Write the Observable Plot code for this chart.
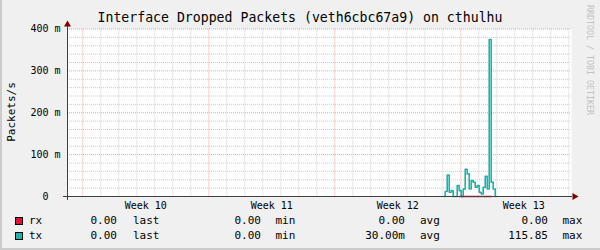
<!DOCTYPE html>
<html>
<head>
<meta charset="utf-8">
<script src="https://cdn.jsdelivr.net/npm/d3@7"></script>
<script src="https://cdn.jsdelivr.net/npm/@observablehq/plot@0.6"></script>
<style>
  html, body { margin: 0; padding: 0; background: #f0f0f0; }
  #wrap { position: relative; width: 600px; height: 250px; background: #f0f0f0; overflow: hidden;
          font-family: "DejaVu Sans Mono", monospace; color: #000; }
  #edgeL { position: absolute; left: 0; top: 0; width: 2px; height: 250px; background: #cbcbcb; }
  #edgeB { position: absolute; left: 0; bottom: 0; width: 600px; height: 2px; background: #cbcbcb; }
  #title { position: absolute; left: 0; top: 11px; width: 600px; text-align: center; font-size: 13.2px; line-height: 14px; white-space: pre; }
  #chart { position: absolute; left: 0; top: 0; }
  #ylab { position: absolute; left: 11px; top: 112px; transform: translate(-50%, -50%) rotate(-90deg); font-size: 11px; white-space: nowrap; }
  #wm { position: absolute; left: 590px; top: 60px; transform: translate(-50%, -50%) rotate(90deg); font-size: 8.3px; color: #c2c2c2; white-space: nowrap; }
  .row { position: absolute; left: 0; width: 600px; height: 14px; line-height: 14px; font-size: 11px; white-space: pre; }
  .row span { position: absolute; top: 0; }
  .sw { width: 6px; height: 6px; border: 1px solid #000; top: 3px !important; }
</style>
</head>
<body>
<div id="wrap">
  <div id="title"></div>
  <div id="chart"></div>
  <div id="ylab"></div>
  <div id="wm"></div>
  <div id="legend"></div>
  <div id="edgeL"></div>
  <div id="edgeB"></div>
</div>
<script>
// ---- data ----
const titleText = "Interface Dropped Packets (veth6cbc67a9) on cthulhu";
const yLabel = "Packets/s";
const watermark = "RRDTOOL / TOBI OETIKER";

const viewStart = "2024-03-03T03:36Z";
const viewEnd = "2024-03-31T03:36Z";

const weekStarts = ["2024-03-04", "2024-03-11", "2024-03-18", "2024-03-25"];
const weekLabels = ["Week 10", "Week 11", "Week 12", "Week 13"];

const yTicks = [0, 0.1, 0.2, 0.3, 0.4];
const yTickLabels = ["0\u00a0\u00a0", "100 m", "200 m", "300 m", "400 m"];

// tx (packets/s) step samples
const txTimes = [
  "2024-03-24T01:52Z", "2024-03-24T03:12Z", "2024-03-24T05:52Z", "2024-03-24T08:32Z",
  "2024-03-24T11:12Z", "2024-03-24T13:52Z", "2024-03-24T19:12Z", "2024-03-24T21:52Z",
  "2024-03-25T00:32Z", "2024-03-25T03:12Z", "2024-03-25T05:52Z", "2024-03-25T08:32Z",
  "2024-03-25T11:12Z", "2024-03-25T13:52Z", "2024-03-25T16:32Z", "2024-03-25T19:12Z",
  "2024-03-25T21:52Z", "2024-03-26T00:32Z", "2024-03-26T03:12Z", "2024-03-26T05:52Z",
  "2024-03-26T08:32Z", "2024-03-26T11:12Z", "2024-03-26T13:52Z", "2024-03-26T16:32Z",
  "2024-03-26T19:12Z", "2024-03-26T21:52Z", "2024-03-26T23:36Z"
];
const txValues = [
  0, 0.012, 0.051, 0.010,
  0.014, 0, 0.026, 0.014,
  0, 0.018, 0.065, 0.054,
  0.018, 0.038, 0.034, 0.022,
  0.026, 0.010, 0.006, 0.022,
  0.048, 0.018, 0.375, 0.034,
  0.018, 0, 0
];
// rx (packets/s)
const rxTimes = ["2024-03-24T21:52Z", "2024-03-26T16:32Z"];
const rxValues = [0, 0];

// legend
const seriesNames = ["rx", "tx"];
const statNames = ["last", "min", "avg", "max"];
const statLast = ["0.00", "0.00"];
const statMin = ["0.00", "0.00"];
const statAvg = ["0.00", "30.00m"];
const statMax = ["0.00", "115.85"];

// ---- styles ----
const seriesColors = ["#dc143c", "#20b2aa"];
const minorGrid = "#cdcdcd";
const majorGrid = "#f3a0a0";
const axisColor = "#404040";
const arrowColor = "#800000";

// ---- build ----
const parse = s => new Date(s);
const tx = txTimes.map((t, i) => ({t: parse(t), v: txValues[i]}));
const rx = rxTimes.map((t, i) => ({t: parse(t), v: rxValues[i]}));
const x0 = parse(viewStart), x1 = parse(viewEnd);
const weekDates = weekStarts.map(s => new Date(s + "T00:00Z"));
const weekMids = weekDates.map(d => d3.utcHour.offset(d, 84));
const dayLines = d3.utcDay.range(x0, x1).filter(d => d.getUTCDay() !== 1);
const yMinor = d3.range(1, 21).map(i => i * 0.02).filter(v => Math.abs(v * 10 - Math.round(v * 10)) > 1e-6);
const yMajor = yTicks.filter(v => v > 0);

document.getElementById("title").textContent = titleText;
document.getElementById("ylab").textContent = yLabel;
document.getElementById("wm").textContent = watermark;

const chart = Plot.plot({
  width: 600,
  height: 215,
  marginLeft: 67,
  marginRight: 29,
  marginTop: 28.5,
  marginBottom: 19,
  style: {background: "transparent", fontFamily: "'DejaVu Sans Mono', monospace", fontSize: "10px", color: "#000", overflow: "visible"},
  x: {type: "utc", domain: [x0, x1]},
  y: {domain: [0, 0.4]},
  marks: [
    Plot.frame({fill: "#ffffff", stroke: null}),
    Plot.gridY(yMinor, {stroke: minorGrid, strokeOpacity: 1, strokeDasharray: "1,1"}),
    Plot.gridX(dayLines, {stroke: minorGrid, strokeOpacity: 1, strokeDasharray: "1,1"}),
    Plot.gridY(yMajor, {stroke: majorGrid, strokeOpacity: 1, strokeDasharray: "1,1"}),
    Plot.gridX(weekDates, {stroke: majorGrid, strokeOpacity: 1, strokeDasharray: "1,1"}),
    Plot.line(tx, {x: "t", y: "v", curve: "step-after", stroke: seriesColors[1], strokeWidth: 1.6}),
    Plot.line(rx, {x: "t", y: "v", curve: "step-after", stroke: seriesColors[0], strokeWidth: 1.5}),
    Plot.ruleY([0], {stroke: axisColor, insetLeft: -4, insetRight: -1}),
    Plot.ruleX([x0], {stroke: axisColor, insetTop: -3, insetBottom: -4}),
    Plot.dot([{x: x1, y: 0}], {x: "x", y: "y", symbol: "triangle", r: 2.6, rotate: 90, dx: 3, fill: arrowColor, stroke: null}),
    Plot.dot([{x: x0, y: 0.4}], {x: "x", y: "y", symbol: "triangle", r: 2.6, dy: -4.5, fill: arrowColor, stroke: null}),
    Plot.axisX({ticks: weekMids, tickFormat: (d, i) => weekLabels[i], tickSize: 0, tickPadding: 5, label: null}),
    Plot.axisY({ticks: yTicks, tickFormat: (d, i) => yTickLabels[i], tickSize: 0, tickPadding: 7, label: null})
  ]
});
document.getElementById("chart").appendChild(chart);

// legend
const legend = document.getElementById("legend");
const rowCenters = [221, 236];
const valueRight = [117, 261, 405, 548];
const labelLeft = [133, 275.5, 420, 562.5];
const stats = [statLast, statMin, statAvg, statMax];
seriesNames.forEach((name, i) => {
  const row = document.createElement("div");
  row.className = "row";
  row.style.top = (rowCenters[i] - 7) + "px";
  const sw = document.createElement("span");
  sw.className = "sw";
  sw.style.left = "15px";
  sw.style.background = seriesColors[i];
  row.appendChild(sw);
  const nm = document.createElement("span");
  nm.style.left = "29px";
  nm.textContent = name;
  row.appendChild(nm);
  stats.forEach((arr, j) => {
    const v = document.createElement("span");
    v.style.right = (600 - valueRight[j]) + "px";
    v.textContent = arr[i];
    row.appendChild(v);
    const l = document.createElement("span");
    l.style.left = labelLeft[j] + "px";
    l.textContent = statNames[j];
    row.appendChild(l);
  });
  legend.appendChild(row);
});
</script>
</body>
</html>
